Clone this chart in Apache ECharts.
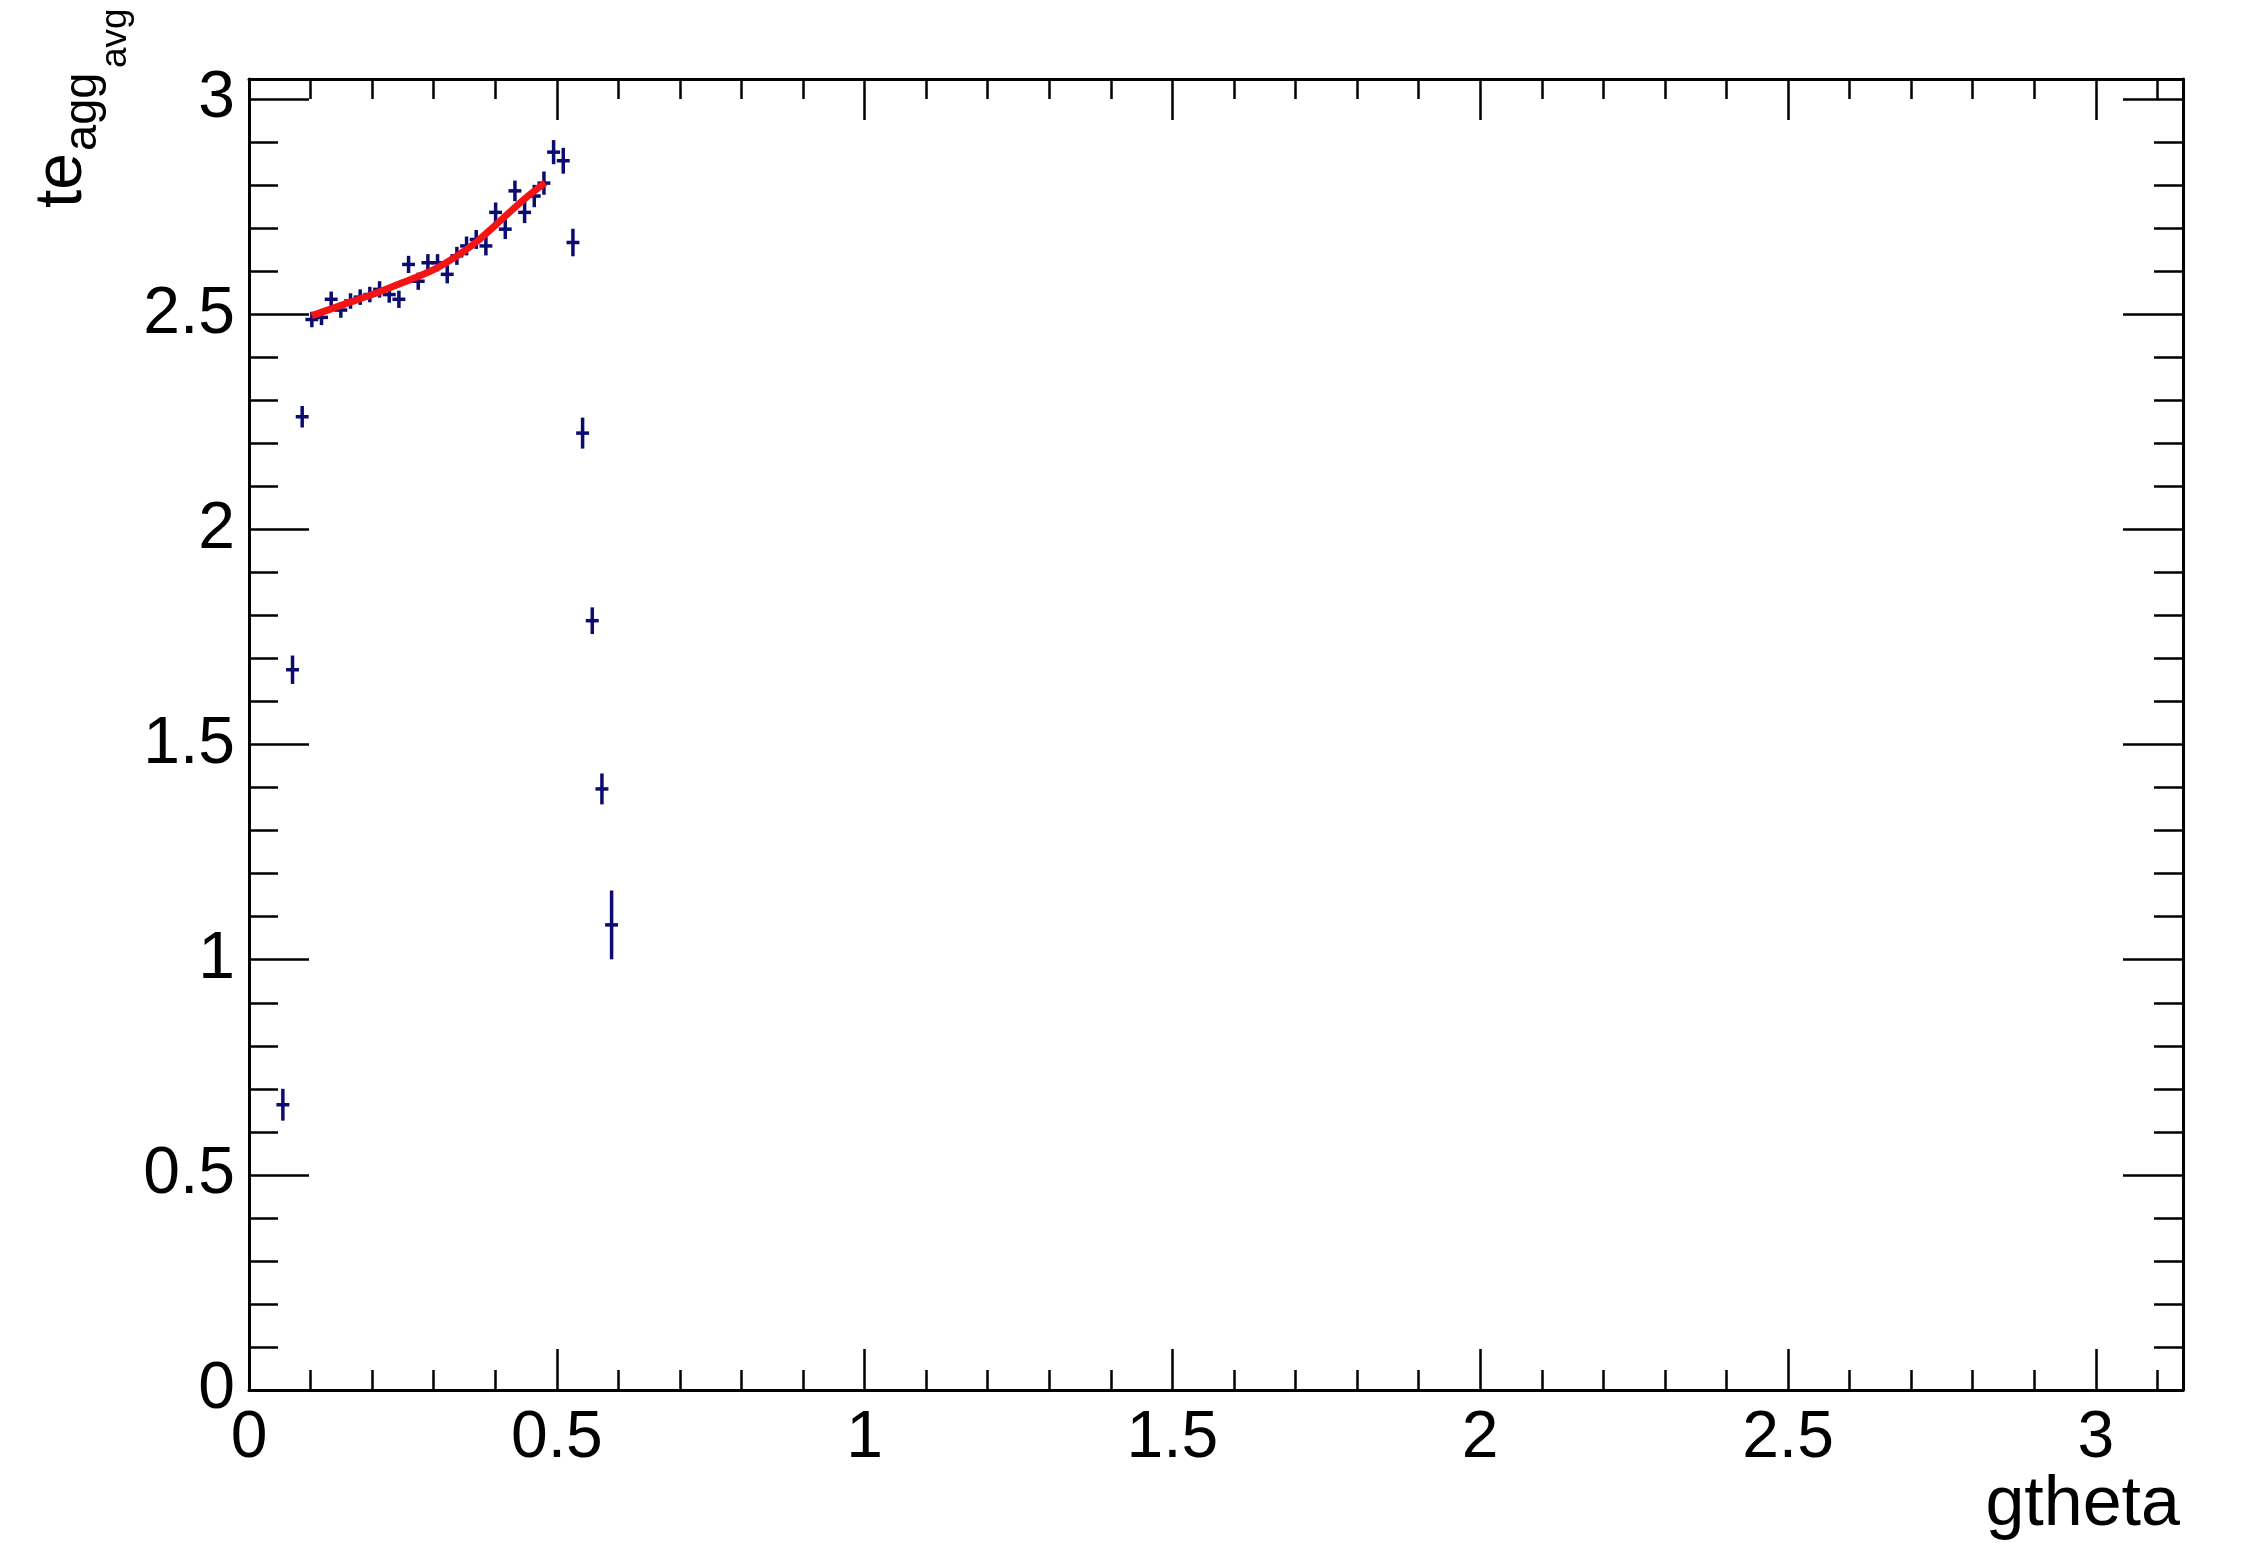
<!DOCTYPE html>
<html>
<head>
<meta charset="utf-8">
<script src="https://cdn.jsdelivr.net/npm/echarts@6/dist/echarts.min.js"></script>
<style>
html,body{margin:0;padding:0;background:#fff;}
#c{width:2249px;height:1544px;}
</style>
</head>
<body>
<div id="c"></div>
<script>
// ---- data ----
const gtheta = [0.0550,0.0707,0.0864,0.1021,0.1178,0.1335,0.1492,0.1649,0.1806,0.1963,
  0.2121,0.2278,0.2435,0.2592,0.2749,0.2906,0.3063,0.3220,0.3377,0.3534,
  0.3691,0.3848,0.4006,0.4163,0.4320,0.4477,0.4634,0.4791,0.4948,0.5105,
  0.5262,0.5419,0.5576,0.5733,0.5890];
const teAvg = [0.663,1.674,2.262,2.488,2.493,2.535,2.510,2.531,2.540,2.546,
  2.558,2.546,2.535,2.616,2.577,2.620,2.620,2.593,2.636,2.659,
  2.674,2.659,2.737,2.698,2.787,2.737,2.775,2.805,2.877,2.857,
  2.667,2.224,1.788,1.397,1.081];
const teErr = [0.037,0.033,0.025,0.018,0.018,0.018,0.018,0.018,0.018,0.018,
  0.019,0.019,0.020,0.020,0.020,0.020,0.020,0.021,0.021,0.022,
  0.022,0.022,0.023,0.023,0.024,0.025,0.026,0.027,0.028,0.030,
  0.032,0.036,0.031,0.036,0.080];
const binHalfWidth = 0.0105;
const fitX = [0.102,0.15,0.20,0.25,0.30,0.34,0.37,0.40,0.43,0.455,0.481];
const fitY = [2.497,2.521,2.546,2.574,2.604,2.638,2.669,2.707,2.746,2.777,2.806];
const xTickLabels = ['0','0.5','1','1.5','2','2.5','3'];
const yTickLabels = ['0','0.5','1','1.5','2','2.5','3'];
const X_MAX = Math.PI, Y_MAX = 3.047;

const errData = gtheta.map((x,i)=>[x, teAvg[i], teErr[i], binHalfWidth]);
const fitData = fitX.map((x,i)=>[x, fitY[i]]);

const FONT = '"Liberation Sans", Arial, Helvetica, sans-serif';
const BLACK = '#000';
function labelFmt(list){
  return function(v){
    const s = String(Math.round(v*1000)/1000);
    return list.indexOf(s) >= 0 ? s : '';
  };
}
function xAx(pos, major, labels){
  return {
    type:'value', min:0, max:X_MAX, interval: major ? 0.5 : 0.1, position:pos,
    axisLine:{show: major, onZero:false, lineStyle:{color:BLACK, width:3}},
    axisTick:{show:true, inside:true, length: major ? 41 : 20, lineStyle:{color:BLACK, width:2.5}},
    axisLabel:{show: labels, margin:16, color:BLACK, fontSize:66, fontFamily:FONT, formatter: labelFmt(xTickLabels), showMinLabel:true, showMaxLabel:true},
    splitLine:{show:false}, minorTick:{show:false}
  };
}
function yAx(pos, major, labels){
  return {
    type:'value', min:0, max:Y_MAX, interval: major ? 0.5 : 0.1, position:pos,
    axisLine:{show: major, onZero:false, lineStyle:{color:BLACK, width:3}},
    axisTick:{show:true, inside:true, length: major ? 60 : 29, lineStyle:{color:BLACK, width:2.5}},
    axisLabel:{show: labels, margin:14, color:BLACK, fontSize:66, fontFamily:FONT, formatter: labelFmt(yTickLabels), showMinLabel:true, showMaxLabel:true},
    splitLine:{show:false}, minorTick:{show:false}
  };
}

const chart = echarts.init(document.getElementById('c'), null, {renderer:'canvas'});
chart.setOption({
  animation:false,
  backgroundColor:'#fff',
  grid:{left:249, top:79, right:66, bottom:154, containLabel:false, outerBoundsMode:'none'},
  xAxis:[xAx('bottom',true,true), xAx('bottom',false,false), xAx('top',true,false), xAx('top',false,false)],
  yAxis:[yAx('left',true,true), yAx('left',false,false), yAx('right',true,false), yAx('right',false,false)],
  series:[
    {
      type:'custom', xAxisIndex:0, yAxisIndex:0, data:errData, clip:true, z:5,
      encode:{x:0, y:1},
      renderItem:function(params, api){
        const x = api.value(0), y = api.value(1), ey = api.value(2), ex = api.value(3);
        const l = api.coord([x-ex, y]), r = api.coord([x+ex, y]);
        const t = api.coord([x, y+ey]), b = api.coord([x, y-ey]);
        const st = {stroke:'#0b0b72', lineWidth:3.5};
        return {type:'group', children:[
          {type:'line', shape:{x1:l[0], y1:l[1], x2:r[0], y2:r[1]}, style:st},
          {type:'line', shape:{x1:t[0], y1:t[1], x2:b[0], y2:b[1]}, style:st}
        ]};
      }
    },
    {
      type:'line', xAxisIndex:0, yAxisIndex:0, data:fitData, smooth:0.35,
      showSymbol:false, symbol:'none', z:10,
      lineStyle:{color:'#f41414', width:7}
    }
  ],
  graphic:[
    {type:'text', x:63, y:208, rotation:Math.PI/2, style:{text:'te', font:'66px '+FONT, fill:BLACK, align:'left', verticalAlign:'middle', textAlign:'left', textVerticalAlign:'middle'}},
    {type:'text', x:83, y:151, rotation:Math.PI/2, style:{text:'agg', font:'47px '+FONT, fill:BLACK, align:'left', verticalAlign:'middle', textAlign:'left', textVerticalAlign:'middle'}},
    {type:'text', x:116, y:68, rotation:Math.PI/2, style:{text:'avg', font:'37px '+FONT, fill:BLACK, align:'left', verticalAlign:'middle', textAlign:'left', textVerticalAlign:'middle'}},
    {type:'text', x:2180, y:1506, style:{text:'gtheta', font:'70px '+FONT, fill:BLACK, align:'right', verticalAlign:'middle', textAlign:'right', textVerticalAlign:'middle'}}
  ]
});
</script>
</body>
</html>
